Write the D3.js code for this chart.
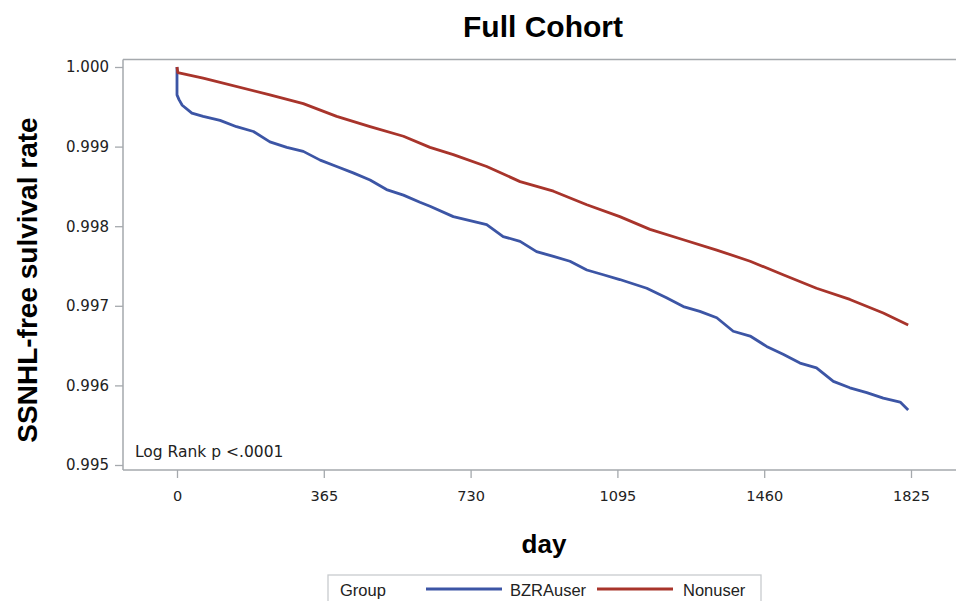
<!DOCTYPE html>
<html><head><meta charset="utf-8">
<script src="https://cdn.jsdelivr.net/npm/d3@7"></script>
<style>html,body{margin:0;padding:0;background:#fff;overflow:hidden}</style>
</head><body>
<svg id="c" width="956" height="601"></svg>
<script>
const title = "Full Cohort";
const yTitle = "SSNHL-free sulvival rate";
const xTitle = "day";
const xTicks = [0, 365, 730, 1095, 1460, 1825];
const yTicks = [0.995, 0.996, 0.997, 0.998, 0.999, 1.000];
const groups = ["BZRAuser", "Nonuser"];
const colors = ["#3C55A5", "#A8342B"];

const bzraDays = [0,0,5,13,37,65,107,148,190,231,273,314,356,397,438,480,521,563,604,629,687,770,811,853,894,936,977,1019,1060,1101,1168,1217,1259,1300,1342,1383,1425,1466,1507,1549,1590,1632,1673,1715,1756,1798,1818];
const bzraSurv = [1.0,0.99965,0.99959,0.99952,0.99942,0.99938,0.99933,0.99925,0.99919,0.99906,0.99899,0.99894,0.99883,0.99875,0.99867,0.99858,0.99846,0.99839,0.9983,0.99825,0.99812,0.99802,0.99787,0.99781,0.99768,0.99762,0.99756,0.99745,0.99739,0.99733,0.99722,0.9971,0.99699,0.99693,0.99685,0.99668,0.99662,0.99649,0.99639,0.99628,0.99622,0.99605,0.99597,0.99591,0.99584,0.99579,0.99569];

const nonDays = [0,2,65,231,314,397,480,563,629,687,770,853,936,1019,1101,1176,1259,1342,1425,1507,1590,1673,1756,1818];
const nonSurv = [1.0,0.99993,0.99986,0.99965,0.99954,0.99938,0.99925,0.99913,0.99899,0.9989,0.99875,0.99856,0.99844,0.99827,0.99812,0.99796,0.99783,0.9977,0.99756,0.99739,0.99722,0.99708,0.99691,0.99676];

const svg = d3.select("#c");
const x = d3.scaleLinear().domain([0, 1825]).range([177, 911]);
const y = d3.scaleLinear().domain([0.995, 1.0]).range([465, 67]);
const axisColor = "#A5A9AD";
const tickFont = "'DejaVu Sans', sans-serif";
const boldFont = "'Liberation Sans', Arial, sans-serif";

// frame
svg.append("line").attr("x1",123).attr("x2",960).attr("y1",59.5).attr("y2",59.5).attr("stroke",axisColor).attr("stroke-width",1.5);
svg.append("line").attr("x1",123).attr("x2",960).attr("y1",470).attr("y2",470).attr("stroke",axisColor).attr("stroke-width",1.5);
svg.append("line").attr("x1",123).attr("x2",123).attr("y1",59.5).attr("y2",470).attr("stroke",axisColor).attr("stroke-width",1.5);

// axes
const ya = svg.append("g").attr("transform","translate(123,0)")
  .call(d3.axisLeft(y).tickValues(yTicks).tickFormat(d3.format(".3f")).tickSize(8).tickPadding(6));
ya.select(".domain").remove();
ya.selectAll("line").attr("stroke",axisColor).attr("stroke-width",1.3);
ya.selectAll("text").attr("font-family",tickFont).attr("font-size",15).attr("fill","#222");

const xa = svg.append("g").attr("transform","translate(0,470)")
  .call(d3.axisBottom(x).tickValues(xTicks).tickFormat(d3.format("d")).tickSize(8).tickPadding(13));
xa.select(".domain").remove();
xa.selectAll("line").attr("stroke",axisColor).attr("stroke-width",1.3);
xa.selectAll("text").attr("font-family",tickFont).attr("font-size",14.5).attr("fill","#222");

// lines
const line = d3.line().x(d => x(d[0])).y(d => y(d[1]));
const series = [bzraDays.map((d,i)=>[d,bzraSurv[i]]), nonDays.map((d,i)=>[d,nonSurv[i]])];
series.forEach((s,i) => {
  svg.append("path").attr("d", line(s)).attr("fill","none")
    .attr("stroke", colors[i]).attr("stroke-width", 2.8).attr("stroke-linejoin","round");
});

// annotation
svg.append("text").attr("x",135).attr("y",457).attr("font-family",tickFont).attr("font-size",15.5).attr("fill","#222").text("Log Rank p <.0001");

// titles
svg.append("text").attr("x",543).attr("y",37).attr("text-anchor","middle")
  .attr("font-family",boldFont).attr("font-weight","bold").attr("font-size",30).text(title);
svg.append("text").attr("transform","translate(37,280) rotate(-90)").attr("text-anchor","middle")
  .attr("font-family",boldFont).attr("font-weight","bold").attr("font-size",28).text(yTitle);
svg.append("text").attr("x",544).attr("y",553).attr("text-anchor","middle")
  .attr("font-family",boldFont).attr("font-weight","bold").attr("font-size",26).text(xTitle);

// legend
const lg = svg.append("g");
lg.append("rect").attr("x",328).attr("y",575).attr("width",433).attr("height",40).attr("fill","#fff").attr("stroke","#C8CBCE").attr("stroke-width",1.3);
lg.append("text").attr("x",340).attr("y",596).attr("font-family",boldFont).attr("font-size",16.5).attr("fill","#222").text("Group");
const lx = [[426,502,510],[597,673,683]];
groups.forEach((g,i) => {
  lg.append("line").attr("x1",lx[i][0]).attr("x2",lx[i][1]).attr("y1",589).attr("y2",589).attr("stroke",colors[i]).attr("stroke-width",2.8);
  lg.append("text").attr("x",lx[i][2]).attr("y",596).attr("font-family",boldFont).attr("font-size",16.5).attr("fill","#222").text(g);
});
</script>
</body></html>
